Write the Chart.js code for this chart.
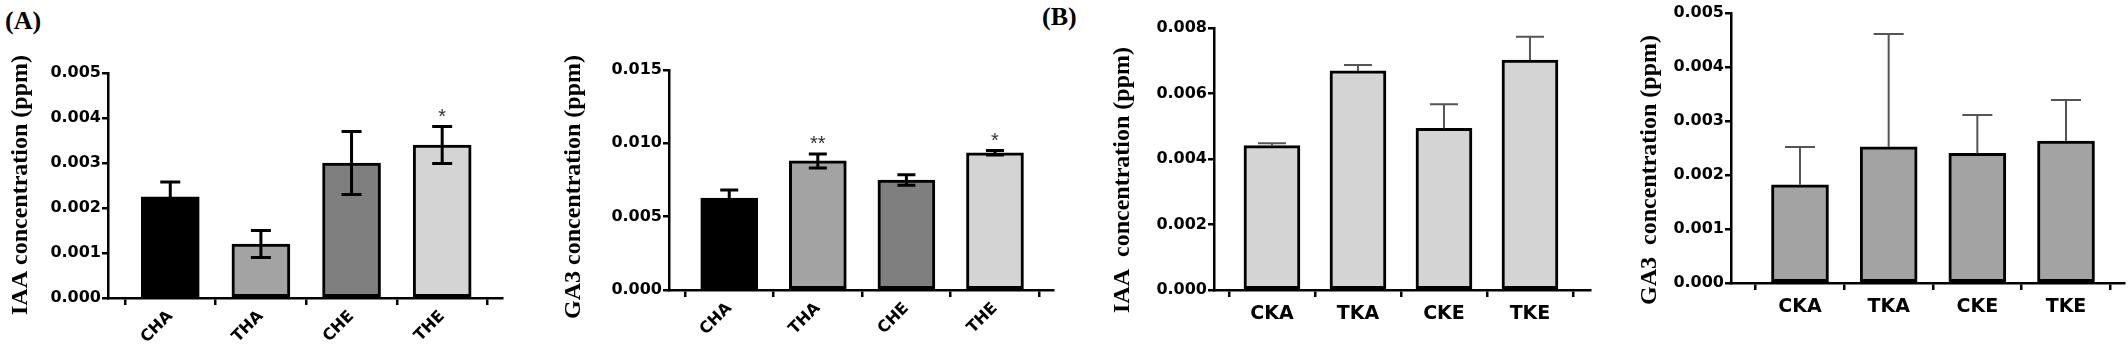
<!DOCTYPE html>
<html>
<head>
<meta charset="utf-8">
<script src="https://cdn.jsdelivr.net/npm/chart.js@4.4.1/dist/chart.umd.min.js"></script>
<style>
  html, body { margin: 0; padding: 0; background: #fff; }
  body { width: 2128px; height: 347px; position: relative; overflow: hidden; }
  canvas { position: absolute; top: 0; }
  .panel-tag { position: absolute; font: bold 26px "Liberation Serif", serif; color: #000; line-height: 1; }
</style>
</head>
<body>
<div class="panel-tag" style="left:5px; top:8px;">(A)</div>
<div class="panel-tag" style="left:1042px; top:4px;">(B)</div>
<canvas id="iaaA" width="520" height="347" style="left:0px"></canvas>
<canvas id="ga3A" width="540" height="347" style="left:520px"></canvas>
<canvas id="iaaB" width="520" height="347" style="left:1080px"></canvas>
<canvas id="ga3B" width="528" height="347" style="left:1600px"></canvas>
<script>
// groups
const groupsA = ['CHA', 'THA', 'CHE', 'THE'];
const groupsB = ['CKA', 'TKA', 'CKE', 'TKE'];

// (A) IAA
const iaaA = [0.00225, 0.0012, 0.0030, 0.0034];
const iaaAErr = [0.00033, 0.0003, 0.0007, 0.00041];
const iaaASig = ['', '', '', '*'];
const iaaATicks = [0, 0.001, 0.002, 0.003, 0.004, 0.005];

// (A) GA3
const ga3A = [0.00626, 0.0088, 0.0075, 0.00936];
const ga3AErr = [0.00056, 0.00048, 0.00036, 0.00015];
const ga3ASig = ['', '**', '', '*'];
const ga3ATicks = [0, 0.005, 0.010, 0.015];

// (B) IAA
const iaaB = [0.00441, 0.00669, 0.00494, 0.00702];
const iaaBErr = [0.00007, 0.00018, 0.00073, 0.00071];
const iaaBTicks = [0, 0.002, 0.004, 0.006, 0.008];

// (B) GA3
const ga3B = [0.00182, 0.00252, 0.0024, 0.00263];
const ga3BErr = [0.0007, 0.00209, 0.00071, 0.00076];
const ga3BTicks = [0, 0.001, 0.002, 0.003, 0.004, 0.005];

const colorsA = ['#000000', '#a3a3a3', '#7f7f7f', '#d4d4d4'];

// error bars, significance stars and the y title
const extrasPlugin = {
  id: 'extras',
  afterDatasetsDraw(chart, args, opts) {
    const ctx = chart.ctx;
    const yScale = chart.scales.y;
    const meta = chart.getDatasetMeta(0);
    const values = chart.data.datasets[0].data.map(d => d.y);
    ctx.save();
    meta.data.forEach((bar, i) => {
      const v = values[i], e = opts.err[i];
      const yTop = yScale.getPixelForValue(v + e);
      const yLow = opts.upperOnly ? bar.y : yScale.getPixelForValue(v - e);
      ctx.strokeStyle = opts.errColor;
      ctx.lineWidth = opts.errWidth;
      ctx.beginPath();
      ctx.moveTo(bar.x, yTop);
      ctx.lineTo(bar.x, yLow);
      ctx.moveTo(bar.x - opts.cap / 2, yTop);
      ctx.lineTo(bar.x + opts.cap / 2, yTop);
      if (!opts.upperOnly) {
        ctx.moveTo(bar.x - opts.cap / 2, yLow);
        ctx.lineTo(bar.x + opts.cap / 2, yLow);
      }
      ctx.stroke();
      if (opts.sig && opts.sig[i]) {
        ctx.fillStyle = '#333';
        ctx.font = '20px "Liberation Sans", Arial, sans-serif';
        ctx.textAlign = 'center';
        ctx.textBaseline = 'alphabetic';
        ctx.fillText(opts.sig[i], bar.x, yTop - 4);
      }
    });
    // rotated axis title
    ctx.translate(opts.titleX, opts.titleY);
    ctx.rotate(-Math.PI / 2);
    ctx.fillStyle = '#000';
    ctx.font = 'bold 24px "Liberation Serif", "Times New Roman", serif';
    ctx.textAlign = 'center';
    ctx.textBaseline = 'middle';
    ctx.fillText(opts.title, 0, 0);
    ctx.restore();
  }
};

function makePanel(id, cfg) {
  const tickFont = { family: 'DejaVu Sans', weight: 'bold', size: cfg.tickSize };
  new Chart(document.getElementById(id), {
    type: 'bar',
    data: {
      datasets: [{
        data: cfg.values.map((v, i) => ({ x: i, y: v })),
        backgroundColor: cfg.colors,
        borderColor: '#000',
        borderWidth: 3,
        borderSkipped: false,
        barThickness: cfg.barW
      }]
    },
    options: {
      responsive: false,
      animation: false,
      devicePixelRatio: 1,
      layout: { padding: { top: cfg.top, right: cfg.right, left: 0, bottom: 0 } },
      plugins: {
        legend: { display: false },
        tooltip: { enabled: false },
        extras: cfg.extras
      },
      scales: {
        x: {
          type: 'linear',
          min: cfg.xMin, max: cfg.xMax,
          offset: false,
          afterBuildTicks: s => { s.ticks = cfg.groups.map((g, i) => ({ value: i })); },
          afterFit: s => { s.height = cfg.bottomH; },
          ticks: {
            callback: v => cfg.groups[v],
            autoSkip: false,
            maxRotation: cfg.rot, minRotation: cfg.rot,
            color: '#000',
            padding: cfg.xPad,
            font: { family: 'DejaVu Sans', weight: 'bold', size: cfg.xSize }
          },
          grid: { drawOnChartArea: false, drawTicks: true, tickLength: 7, color: '#000', lineWidth: 2.5 },
          border: { display: true, color: '#000', width: 2.5 }
        },
        y: {
          min: cfg.ticks[0], max: cfg.ticks[cfg.ticks.length - 1],
          afterBuildTicks: s => { s.ticks = cfg.ticks.map(t => ({ value: t })); },
          afterFit: s => { s.width = cfg.yW; },
          ticks: {
            callback: v => v.toFixed(3),
            color: '#000',
            padding: 1,
            font: tickFont
          },
          grid: { drawOnChartArea: false, drawTicks: true, tickLength: 6, color: '#000', lineWidth: 2.5 },
          border: { display: true, color: '#000', width: 2.5 }
        }
      }
    },
    plugins: [extrasPlugin]
  });
}

makePanel('iaaA', {
  groups: groupsA, values: iaaA, colors: colorsA, ticks: iaaATicks,
  top: 73, right: 18, yW: 108, bottomH: 49, barW: 58,
  xMin: -0.687, xMax: 3.66, rot: 45, xSize: 16, xPad: 2, tickSize: 16,
  extras: { err: iaaAErr, sig: iaaASig, upperOnly: false, errColor: '#000', errWidth: 3, cap: 20,
            title: 'IAA concentration (ppm)', titleX: 21, titleY: 185 }
});

makePanel('ga3A', {
  groups: groupsA, values: ga3A, colors: colorsA, ticks: ga3ATicks,
  top: 70, right: 7, yW: 149, bottomH: 57, barW: 57,
  xMin: -0.68, xMax: 3.655, rot: 45, xSize: 16, xPad: 2, tickSize: 16,
  extras: { err: ga3AErr, sig: ga3ASig, upperOnly: false, errColor: '#000', errWidth: 3, cap: 18,
            title: 'GA3 concentration (ppm)', titleX: 54, titleY: 187 }
});

makePanel('iaaB', {
  groups: groupsB, values: iaaB, colors: iaaB.map(() => '#d4d4d4'), ticks: iaaBTicks,
  top: 28, right: 10, yW: 134, bottomH: 57, barW: 56,
  xMin: -0.674, xMax: 3.698, rot: 0, xSize: 19, xPad: 6, tickSize: 16,
  extras: { err: iaaBErr, sig: null, upperOnly: true, errColor: '#555', errWidth: 2, cap: 28,
            title: 'IAA  concentration (ppm)', titleX: 43, titleY: 180 }
});

makePanel('ga3B', {
  groups: groupsB, values: ga3B, colors: ga3B.map(() => '#a3a3a3'), ticks: ga3BTicks,
  top: 13, right: 4, yW: 131, bottomH: 64, barW: 57,
  xMin: -0.778, xMax: 3.654, rot: 0, xSize: 19, xPad: 6, tickSize: 16,
  extras: { err: ga3BErr, sig: null, upperOnly: true, errColor: '#555', errWidth: 2, cap: 30,
            title: 'GA3  concentration (ppm)', titleX: 50, titleY: 170 }
});
</script>
</body>
</html>
